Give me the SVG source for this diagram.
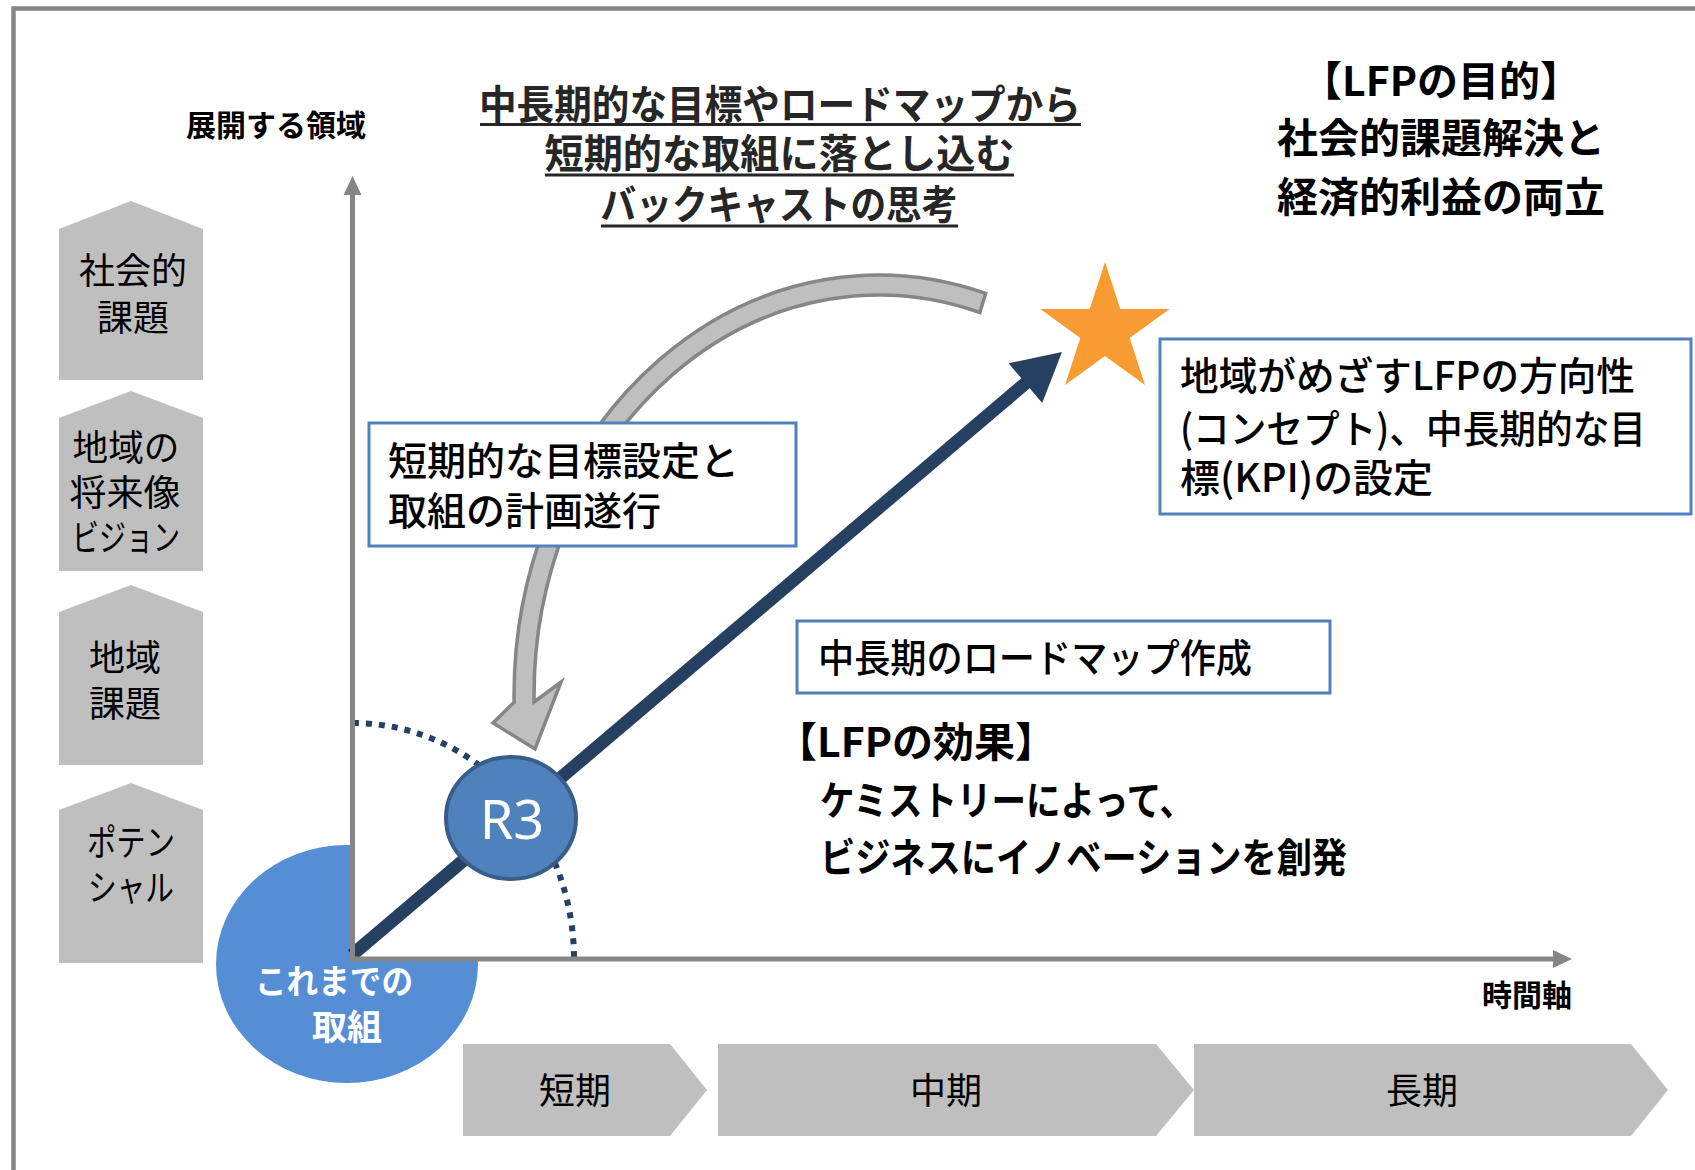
<svg xmlns="http://www.w3.org/2000/svg" width="1695" height="1170" viewBox="0 0 1695 1170">
<defs>
<style>
.jp{font-family:"Noto Sans CJK JP","Noto Sans",sans-serif;}
.b{font-weight:700;}
.m{font-weight:500;}
.pent{fill:#bfbfbf;}
.ptxt{font-size:36px;fill:#000;text-anchor:middle;}
.box{fill:#fff;stroke:#4f81bd;stroke-width:3;}
.btxt{fill:#000;font-size:39px;}
.axis{stroke:#868686;stroke-width:5;fill:none;}
.axhead{fill:#868686;}
.title{font-size:40px;fill:#262626;text-anchor:middle;font-weight:700;}
.uline{stroke:#262626;stroke-width:3;}
.chev{fill:#bfbfbf;}
.ctxt{font-size:36px;text-anchor:middle;fill:#000;}
.lab{font-size:30px;fill:#000;text-anchor:middle;font-weight:700;}
.goal{font-size:41px;fill:#000;text-anchor:middle;font-weight:700;}
</style>
</defs>
<rect width="1695" height="1170" fill="#fff"/>
<rect x="13.5" y="8.5" width="1720" height="1220" fill="none" stroke="#868686" stroke-width="4.5"/>

<!-- left category pentagons -->
<g id="cat-social">
<path class="pent" d="M59 229 L131 201 L203 229 L203 380 L59 380 Z"/>
<text class="jp ptxt" x="133" y="284">社会的</text>
<text class="jp ptxt" x="133" y="331">課題</text>
</g>
<g id="cat-vision">
<path class="pent" d="M59 418 L131 391 L203 418 L203 571 L59 571 Z"/>
<text class="jp ptxt" x="126" y="461" textLength="107" lengthAdjust="spacingAndGlyphs">地域の</text>
<text class="jp ptxt" x="125" y="506" textLength="111" lengthAdjust="spacingAndGlyphs">将来像</text>
<text class="jp ptxt" x="126" y="551" textLength="108" lengthAdjust="spacingAndGlyphs">ビジョン</text>
</g>
<g id="cat-local">
<path class="pent" d="M59 612 L131 585 L203 612 L203 765 L59 765 Z"/>
<text class="jp ptxt" x="125" y="671">地域</text>
<text class="jp ptxt" x="125" y="717">課題</text>
</g>
<g id="cat-potential">
<path class="pent" d="M59 810 L131 783 L203 810 L203 963 L59 963 Z"/>
<text class="jp ptxt" x="131" y="856" textLength="88" lengthAdjust="spacingAndGlyphs">ポテン</text>
<text class="jp ptxt" x="131" y="901" textLength="86" lengthAdjust="spacingAndGlyphs">シャル</text>
</g>

<!-- past efforts circle -->
<g id="past">
<ellipse cx="347" cy="964" rx="131" ry="119" fill="#558ed5"/>
<rect x="352.5" y="830" width="140" height="129" fill="#fff"/>
<text class="jp b" x="334" y="994" font-size="34" fill="#fff" text-anchor="middle" textLength="158" lengthAdjust="spacingAndGlyphs">これまでの</text>
<text class="jp b" x="347" y="1040" font-size="35" fill="#fff" text-anchor="middle">取組</text>
</g>

<!-- labels -->
<text id="y-label" class="jp lab" x="276" y="136" font-size="29">展開する領域</text>
<text id="x-label" class="jp lab" x="1527" y="1006">時間軸</text>

<!-- title -->
<g id="title">
<text class="jp title" x="780" y="119" textLength="602" lengthAdjust="spacingAndGlyphs">中長期的な目標やロードマップから</text>
<text class="jp title" x="779.5" y="168" textLength="470" lengthAdjust="spacingAndGlyphs">短期的な取組に落とし込む</text>
<text class="jp title" x="779" y="219" textLength="357" lengthAdjust="spacingAndGlyphs">バックキャストの思考</text>
<line class="uline" x1="480" y1="124.5" x2="1081" y2="124.5"/>
<line class="uline" x1="545" y1="175" x2="1014" y2="175"/>
<line class="uline" x1="601" y1="226" x2="958" y2="226"/>
</g>

<g id="goal-text">
<text class="jp goal" x="1441" y="96">【LFPの目的】</text>
<text class="jp goal" x="1441" y="153">社会的課題解決と</text>
<text class="jp goal" x="1441" y="212">経済的利益の両立</text>
</g>

<!-- connectors -->
<g id="connectors">
<path d="M353 723 A221 236 0 0 1 574 959" fill="none" stroke="#254061" stroke-width="6" stroke-dasharray="6 7"/>
<line x1="352" y1="955" x2="1027" y2="382" stroke="#254061" stroke-width="13"/>
<polygon points="1062,352 1042.2,402.9 1008.6,363.3" fill="#254061"/>
<path d="M985.7 293.4 A365 420 0 0 0 514.1 702.3 L493 723 L535 749 L561 682 L534.1 702 A345 400 0 0 1 979.9 312.5 Z" fill="#bfbfbf" stroke="#868686" stroke-width="3.5" stroke-linejoin="miter"/>
</g>

<!-- axes -->
<g id="axes">
<line class="axis" x1="352.5" y1="961.5" x2="352.5" y2="193"/>
<polygon class="axhead" points="352.5,176 343.5,195 361.5,195"/>
<line class="axis" x1="350" y1="959" x2="1555" y2="959"/>
<polygon class="axhead" points="1572,959 1553,950 1553,968"/>
</g>

<!-- R3 node -->
<g id="r3">
<ellipse cx="511" cy="818" rx="65" ry="61" fill="#4f81bd" stroke="#385d8a" stroke-width="4"/>
<text x="512" y="839" font-family="'Noto Sans','Open Sans',sans-serif" font-size="54" fill="#fff" text-anchor="middle">R3</text>
</g>

<!-- star -->
<g id="star">
<polygon points="1105,262 1120.3,309 1169.7,309 1129.7,338 1145,385 1105,356 1065,385 1080.3,338 1040.3,309 1089.7,309" fill="#f99b33"/>
</g>

<!-- boxes -->
<g id="box-short">
<rect class="box" x="369" y="423" width="427" height="123"/>
<text class="jp m btxt" x="388" y="474.5" font-size="40">短期的な目標設定と</text>
<text class="jp m btxt" x="388" y="524.5" font-size="40">取組の計画遂行</text>
</g>
<g id="box-goal">
<rect class="box" x="1160" y="339" width="531" height="175"/>
<text class="jp m btxt" x="1180" y="389.5" textLength="455" lengthAdjust="spacingAndGlyphs">地域がめざすLFPの方向性</text>
<text class="jp m btxt" x="1180" y="442.5" textLength="466" lengthAdjust="spacingAndGlyphs">(コンセプト)、中長期的な目</text>
<text class="jp m btxt" x="1180" y="491.5" textLength="253" lengthAdjust="spacingAndGlyphs">標(KPI)の設定</text>
</g>
<g id="box-roadmap">
<rect class="box" x="797" y="621" width="533" height="72"/>
<text class="jp m btxt" x="818" y="671.5" textLength="434" lengthAdjust="spacingAndGlyphs">中長期のロードマップ作成</text>
</g>

<g id="effect">
<text class="jp b" x="916" y="757" font-size="41" text-anchor="middle">【LFPの効果】</text>
<text class="jp b" x="820" y="815" font-size="40" textLength="374" lengthAdjust="spacingAndGlyphs">ケミストリーによって、</text>
<text class="jp b" x="820" y="872" font-size="40" textLength="527" lengthAdjust="spacingAndGlyphs">ビジネスにイノベーションを創発</text>
</g>

<!-- timeline -->
<g id="term-short">
<path class="chev" d="M463 1044 L670 1044 L707 1090 L670 1136 L463 1136 Z"/>
<text class="jp ctxt" x="575" y="1104">短期</text>
</g>
<g id="term-mid">
<path class="chev" d="M718 1044 L1156 1044 L1194 1090 L1156 1136 L718 1136 Z"/>
<text class="jp ctxt" x="946" y="1104">中期</text>
</g>
<g id="term-long">
<path class="chev" d="M1194 1044 L1631 1044 L1668 1090 L1631 1136 L1194 1136 Z"/>
<text class="jp ctxt" x="1422" y="1104">長期</text>
</g>
</svg>
